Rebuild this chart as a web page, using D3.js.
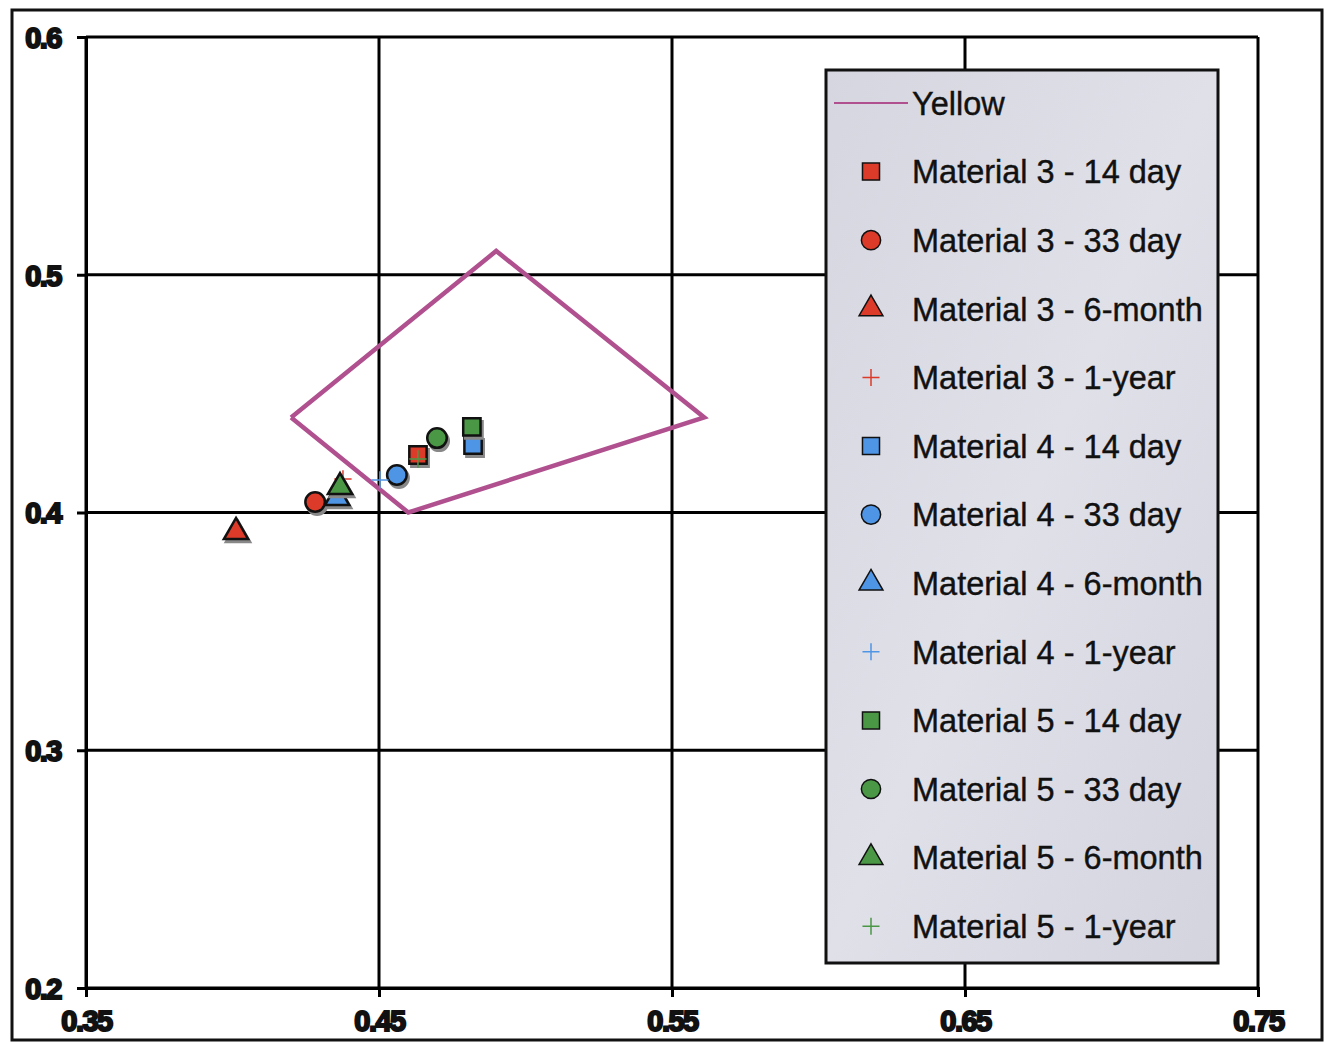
<!DOCTYPE html>
<html>
<head>
<meta charset="utf-8">
<script src="https://cdn.jsdelivr.net/npm/d3@7"></script>
<style>
  body { margin: 0; background: #fff; }
  svg { display: block; }
</style>
</head>
<body>
<svg id="chart"></svg>
<script>
// Yellow region boundary (closed polygon)
const yellowX = [0.42, 0.49, 0.561, 0.46, 0.42];
const yellowY = [0.44, 0.51, 0.44, 0.40, 0.44];

// series: name, colour, marker shape, x, y
const seriesNames = [
  "Material 3 - 14 day", "Material 3 - 33 day", "Material 3 - 6-month", "Material 3 - 1-year",
  "Material 4 - 14 day", "Material 4 - 33 day", "Material 4 - 6-month", "Material 4 - 1-year",
  "Material 5 - 14 day", "Material 5 - 33 day", "Material 5 - 6-month", "Material 5 - 1-year"
];
const seriesColors = [
  "#dc3b2a", "#dc3b2a", "#dc3b2a", "#dc3b2a",
  "#4f95e6", "#4f95e6", "#4f95e6", "#4f95e6",
  "#4a9845", "#4a9845", "#4a9845", "#4a9845"
];
const seriesShapes = [
  "square", "circle", "triangle", "plus",
  "square", "circle", "triangle", "plus",
  "square", "circle", "triangle", "plus"
];
const seriesX = [0.4633, 0.4282, 0.4012, 0.4377, 0.4821, 0.4561, 0.4357, 0.4503, 0.4817, 0.4698, 0.4367, 0.4633];
const seriesY = [0.4242, 0.4044, 0.3918, 0.4141, 0.4284, 0.4158, 0.4061, 0.4137, 0.4360, 0.4313, 0.4107, 0.4225];

const xTicks = [0.35, 0.45, 0.55, 0.65, 0.75];
const yTicks = [0.2, 0.3, 0.4, 0.5, 0.6];

const W = 1329, H = 1043;
const margin = { top: 37, right: 71, bottom: 55, left: 86 };
const width = W - margin.left - margin.right,
      height = H - margin.top - margin.bottom;

const svg = d3.select("#chart").attr("width", W).attr("height", H);

// outer chart frame
svg.append("rect")
  .attr("x", 12).attr("y", 10)
  .attr("width", 1310).attr("height", 1030)
  .attr("fill", "#fff")
  .attr("stroke", "#111").attr("stroke-width", 3);

const g = svg.append("g").attr("transform", `translate(${margin.left},${margin.top})`);

const x = d3.scaleLinear().domain([0.35, 0.75]).range([0, width]);
const y = d3.scaleLinear().domain([0.2, 0.6]).range([height, 0]);

// gridlines
g.append("g")
  .selectAll("line")
  .data(xTicks)
  .join("line")
  .attr("x1", d => x(d)).attr("x2", d => x(d))
  .attr("y1", 0).attr("y2", height)
  .attr("stroke", "#000").attr("stroke-width", 3);

g.append("g")
  .selectAll("line")
  .data(yTicks)
  .join("line")
  .attr("x1", 0).attr("x2", width)
  .attr("y1", d => y(d)).attr("y2", d => y(d))
  .attr("stroke", "#000").attr("stroke-width", 3);

// axes
const xAxis = g.append("g")
  .attr("transform", `translate(0,${height})`)
  .call(d3.axisBottom(x).tickValues(xTicks).tickFormat(d3.format(".2f")).tickSize(9).tickPadding(13));
const yAxis = g.append("g")
  .call(d3.axisLeft(y).tickValues(yTicks).tickFormat(d3.format(".1f")).tickSize(9).tickPadding(16));

[xAxis, yAxis].forEach(a => {
  a.select(".domain").attr("stroke", "#000").attr("stroke-width", 3);
  a.selectAll(".tick line").attr("stroke", "#000").attr("stroke-width", 3);
  a.selectAll(".tick text")
    .attr("fill", "#111")
    .style("font-family", "'Liberation Sans', Arial, sans-serif")
    .style("font-weight", "bold")
    .style("font-size", "29px")
    .style("letter-spacing", "-1.5px")
    .attr("stroke", "#111").attr("stroke-width", 2);
});
yAxis.selectAll(".tick text").attr("dy", "0.36em");

// yellow region
const yellowPts = yellowX.map((v, i) => [v, yellowY[i]]);
g.append("path")
  .datum(yellowPts)
  .attr("d", d3.line().x(d => x(d[0])).y(d => y(d[1])))
  .attr("fill", "none")
  .attr("stroke", "#b0508f")
  .attr("stroke-width", 4.5);

// marker helpers
function symbolPath(shape, size) {
  if (shape === "square") return d3.symbol(d3.symbolSquare, size)();
  if (shape === "circle") return d3.symbol(d3.symbolCircle, size)();
  if (shape === "triangle") return d3.symbol(d3.symbolTriangle, size * 0.85)();
  const r = Math.sqrt(size) / 2;
  return `M${-r},0H${r}M0,${-r}V${r}`;
}

function drawMarker(sel, shape, color, size, shadow) {
  if (shape === "plus") {
    sel.append("path")
      .attr("d", symbolPath(shape, size))
      .attr("stroke", color).attr("stroke-width", 1.5).attr("fill", "none");
    return;
  }
  if (shadow) {
    sel.append("path")
      .attr("d", symbolPath(shape, size))
      .attr("transform", "translate(2,3)")
      .attr("fill", "#888").attr("stroke", "#888").attr("stroke-width", 2.5);
  }
  sel.append("path")
    .attr("d", symbolPath(shape, size))
    .attr("fill", color).attr("stroke", "#111").attr("stroke-width", shadow ? 2.5 : 1.5);
}

// points
const points = seriesNames.map((name, i) => ({
  name, color: seriesColors[i], shape: seriesShapes[i], x: seriesX[i], y: seriesY[i]
}));

g.append("g")
  .selectAll("g")
  .data(points)
  .join("g")
  .attr("transform", d => `translate(${x(d.x)},${y(d.y)})`)
  .each(function(d) { drawMarker(d3.select(this), d.shape, d.color, 300, true); });

// legend
const lgX = 826, lgY = 70, lgW = 392, lgH = 893;
const defs = svg.append("defs");
const grad = defs.append("linearGradient").attr("id", "lgbg")
  .attr("x1", 0).attr("y1", 0).attr("x2", 1).attr("y2", 1);
grad.append("stop").attr("offset", "0%").attr("stop-color", "#d5d6df");
grad.append("stop").attr("offset", "50%").attr("stop-color", "#dfe0e8");
grad.append("stop").attr("offset", "100%").attr("stop-color", "#d3d4de");

svg.append("rect")
  .attr("x", lgX).attr("y", lgY).attr("width", lgW).attr("height", lgH)
  .attr("fill", "url(#lgbg)").attr("stroke", "#111").attr("stroke-width", 3);

const rowStep = 68.6;
const legend = svg.append("g").attr("transform", `translate(${lgX},${lgY})`);
const legendFont = "'Liberation Sans', Arial, sans-serif";

legend.append("line")
  .attr("x1", 8).attr("x2", 82)
  .attr("y1", 33).attr("y2", 33)
  .attr("stroke", "#b0508f").attr("stroke-width", 2);
legend.append("text")
  .attr("x", 86).attr("y", 33).attr("dy", "0.36em")
  .style("font-family", legendFont).style("font-size", "32.5px")
  .attr("fill", "#111").attr("stroke", "#111").attr("stroke-width", 0.4)
  .text("Yellow");

points.forEach((p, i) => {
  const cy = 33 + (i + 1) * rowStep;
  const row = legend.append("g").attr("transform", `translate(45,${cy})`);
  drawMarker(row, p.shape, p.color, 290, false);
  legend.append("text")
    .attr("x", 86).attr("y", cy).attr("dy", "0.36em")
    .style("font-family", legendFont).style("font-size", "32.5px")
    .attr("fill", "#111").attr("stroke", "#111").attr("stroke-width", 0.4)
    .text(p.name);
});
</script>
</body>
</html>
